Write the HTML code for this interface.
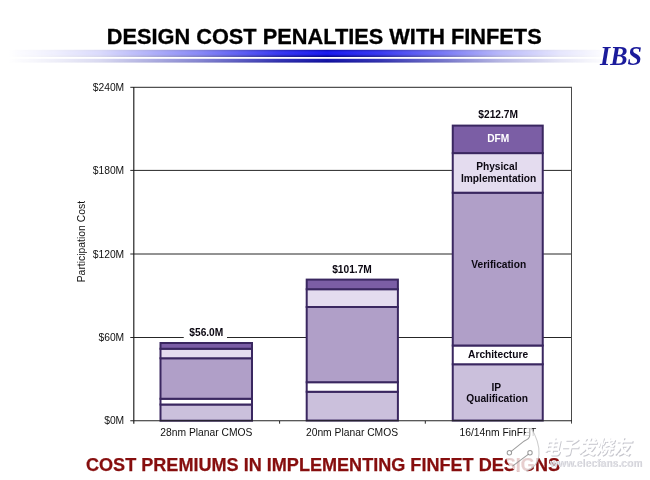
<!DOCTYPE html>
<html><head><meta charset="utf-8">
<style>
html,body{margin:0;padding:0;background:#fff;}
body{width:650px;height:480px;overflow:hidden;position:relative;font-family:"Liberation Sans",sans-serif;}
svg{position:absolute;left:0;top:0;}
text{font-family:"Liberation Sans",sans-serif;}
.cjk{font-family:"Liberation Sans","Noto Sans CJK SC",sans-serif;}
</style></head><body>
<svg width="650" height="480" viewBox="0 0 650 480">
<defs>
<linearGradient id="hm" gradientUnits="userSpaceOnUse" x1="0" x2="650" y1="0" y2="0">
<stop offset="0.0123" stop-color="#fff" stop-opacity="0"/>
<stop offset="0.0846" stop-color="#fff" stop-opacity="0.07"/>
<stop offset="0.1538" stop-color="#fff" stop-opacity="0.16"/>
<stop offset="0.3077" stop-color="#fff" stop-opacity="0.52"/>
<stop offset="0.4308" stop-color="#fff" stop-opacity="0.87"/>
<stop offset="0.5031" stop-color="#fff" stop-opacity="1"/>
<stop offset="0.5846" stop-color="#fff" stop-opacity="0.86"/>
<stop offset="0.6769" stop-color="#fff" stop-opacity="0.6"/>
<stop offset="0.7692" stop-color="#fff" stop-opacity="0.31"/>
<stop offset="0.8615" stop-color="#fff" stop-opacity="0.11"/>
<stop offset="0.9231" stop-color="#fff" stop-opacity="0.02"/>
<stop offset="0.9385" stop-color="#fff" stop-opacity="0"/>
</linearGradient>
<mask id="fm" maskUnits="userSpaceOnUse" x="0" y="40" width="650" height="40">
<rect x="0" y="40" width="650" height="40" fill="url(#hm)"/>
</mask>
<linearGradient id="vg" x1="0" x2="0" y1="0" y2="1">
<stop offset="0" stop-color="#0a0aa8"/>
<stop offset="0.3" stop-color="#1a1af0"/>
<stop offset="0.62" stop-color="#1818ee"/>
<stop offset="1" stop-color="#02027a"/>
</linearGradient>
<linearGradient id="vg2" x1="0" x2="0" y1="0" y2="1">
<stop offset="0" stop-color="#1c1cb4"/>
<stop offset="1" stop-color="#0a0a94"/>
</linearGradient>
</defs>
<rect width="650" height="480" fill="#fff"/>
<!-- title -->
<text x="106.7" y="43.6" font-size="22" font-weight="bold" fill="#000" stroke="#000" stroke-width="0.3" textLength="435" lengthAdjust="spacingAndGlyphs">DESIGN COST PENALTIES WITH FINFETS</text>
<!-- gradient bars -->
<g mask="url(#fm)">
<rect x="0" y="49.8" width="650" height="7.2" fill="url(#vg)"/>
<rect x="0" y="58.8" width="650" height="3.8" fill="url(#vg2)"/>
</g>
<text x="600" y="65.3" font-size="27" font-weight="bold" font-style="italic" fill="#1b1b9b" textLength="42" lengthAdjust="spacingAndGlyphs" style="font-family:'Liberation Serif',serif">IBS</text>

<!-- grid -->
<g stroke="#262626" stroke-width="1" fill="none">
<line x1="130.3" y1="87.3" x2="572" y2="87.3"/>
<line x1="130.3" y1="170.4" x2="572" y2="170.4"/>
<line x1="130.3" y1="254" x2="572" y2="254"/>
<line x1="130.3" y1="337.5" x2="572" y2="337.5"/>
<line x1="133.8" y1="87" x2="133.8" y2="423.8" stroke-width="1.15" stroke="#1c1c1c"/>
<line x1="571.5" y1="87" x2="571.5" y2="423.6" stroke="#4a4a4a"/>
<line x1="279.6" y1="421" x2="279.6" y2="423.7"/>
<line x1="425.3" y1="421" x2="425.3" y2="423.7"/>
</g>
<!-- y labels -->
<g font-size="10.3" text-anchor="end" fill="#111">
<text x="124.2" y="90.8">$240M</text>
<text x="124.2" y="174">$180M</text>
<text x="124.2" y="257.5">$120M</text>
<text x="124.2" y="341">$60M</text>
<text x="124.2" y="424.3">$0M</text>
</g>
<text transform="translate(85,241.6) rotate(-90)" font-size="10.4" text-anchor="middle" fill="#111">Participation Cost</text>

<!-- bar1 -->
<g stroke="#3a2760" stroke-width="2">
<rect x="160.5" y="404.5" width="91.5" height="16.2" fill="#cbc0dc"/>
<rect x="160.5" y="398.75" width="91.5" height="5.75" fill="#fff"/>
<rect x="160.5" y="358.25" width="91.5" height="40.5" fill="#b09fc8"/>
<rect x="160.5" y="348.75" width="91.5" height="9.5" fill="#e4dcef"/>
<rect x="160.5" y="343" width="91.5" height="5.75" fill="#7b5ea5"/>
</g>
<!-- bar2 -->
<g stroke="#3a2760" stroke-width="2">
<rect x="306.7" y="391.75" width="91.2" height="28.8" fill="#cbc0dc"/>
<rect x="306.7" y="382.2" width="91.2" height="9.55" fill="#fff"/>
<rect x="306.7" y="307" width="91.2" height="75.2" fill="#b09fc8"/>
<rect x="306.7" y="289.2" width="91.2" height="17.8" fill="#e4dcef"/>
<rect x="306.7" y="279.6" width="91.2" height="9.6" fill="#7b5ea5"/>
</g>
<!-- bar3 -->
<g stroke="#3a2760" stroke-width="2">
<rect x="452.75" y="364.25" width="90" height="56.3" fill="#cbc0dc"/>
<rect x="452.75" y="345.5" width="90" height="18.75" fill="#fff"/>
<rect x="452.75" y="192.7" width="90" height="152.8" fill="#b09fc8"/>
<rect x="452.75" y="153.1" width="90" height="39.6" fill="#e4dcef"/>
<rect x="452.75" y="125.6" width="90" height="27.5" fill="#7b5ea5"/>
</g>
<line x1="130.3" y1="420.7" x2="572" y2="420.7" stroke-width="1.15" stroke="#222"/>
<!-- value labels -->
<rect x="183.75" y="328" width="43.25" height="11" fill="#fff"/>
<g font-size="10.2" font-weight="bold" text-anchor="middle" fill="#0c0812">
<text x="206.3" y="336.3">$56.0M</text>
<text x="352" y="272.9">$101.7M</text>
<text x="498.2" y="118.3">$212.7M</text>
<text x="498.2" y="142.3" fill="#fff">DFM</text>
<text x="496.8" y="170.2">Physical</text>
<text x="498.6" y="181.7">Implementation</text>
<text x="498.7" y="267.5">Verification</text>
<text x="498.1" y="357.5">Architecture</text>
<text x="496.3" y="390.75">IP</text>
<text x="497.1" y="402">Qualification</text>
</g>
<g font-size="10.3" text-anchor="middle" fill="#111">
<text x="206.4" y="436.25">28nm Planar CMOS</text>
<text x="352" y="436.25">20nm Planar CMOS</text>
<text x="497.9" y="436.25">16/14nm FinFET</text>
</g>
<text x="86" y="470.6" font-size="18.1" font-weight="bold" fill="#860e0e" stroke="#860e0e" stroke-width="0.25" textLength="474" lengthAdjust="spacingAndGlyphs">COST PREMIUMS IN IMPLEMENTING FINFET DESIGNS</text>

<!-- watermark -->
<g>
<path d="M526.6 427 L531 427 C535.5 435 539.6 444 539.2 454 C538.8 464 531 471.6 522 471.6 C512 471.6 505.6 463 506 455 C506.4 447 513 442 519 439 C524 436.5 526.4 434 526.6 427 Z" fill="#fff" fill-opacity="0.8"/>
<g fill="none" stroke="#858585" stroke-width="1.05" stroke-opacity="0.8">
<circle cx="509.4" cy="452.8" r="2.2"/>
<path d="M510.9 451.6 L524 441.2 C527.5 439.5 529.8 438.5 529.8 435 L529.8 428"/>
<circle cx="530" cy="452.8" r="2.2"/>
<path d="M528.6 454.2 L512.5 466.2"/>
<path d="M531 428 C535.5 435 539.4 444 539 454 C538.6 463 533 469 526 471" stroke="#b8b8b8" stroke-opacity="0.7"/>
</g>
<g font-size="19.6" font-weight="bold" class="cjk" transform="translate(0,455) skewX(-12) translate(0,-455)">
<text class="cjk" x="543.4" y="455.2" fill="#c2c2c9" fill-opacity="0.95" textLength="88.5" lengthAdjust="spacingAndGlyphs">电子发烧友</text>
<text class="cjk" x="542.4" y="454.2" fill="#ffffff" textLength="88.5" lengthAdjust="spacingAndGlyphs">电子发烧友</text>
</g>
<g font-size="10.3" font-weight="bold">
<text x="550.3" y="467.1" fill="#c0c0c8" textLength="92.4" lengthAdjust="spacingAndGlyphs">www.elecfans.com</text>
<text x="549.8" y="466.6" fill="#e8e8ec" fill-opacity="0.85" textLength="92.4" lengthAdjust="spacingAndGlyphs">www.elecfans.com</text>
</g>
</g>
</svg>
</body></html>
